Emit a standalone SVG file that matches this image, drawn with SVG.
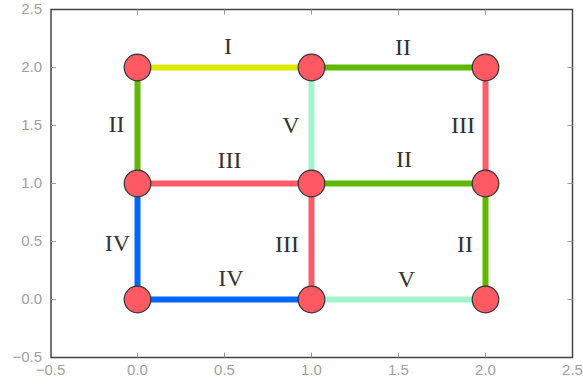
<svg xmlns="http://www.w3.org/2000/svg" width="583" height="386" viewBox="0 0 583 386">
<style>
.tk{stroke:#999;stroke-width:1;fill:none}
.tl{font-family:"Liberation Sans",Arial,sans-serif;font-size:15px;fill:#a0a0a0}
.e{stroke-width:6;fill:none;stroke-linecap:butt}
.lb{font-family:"Liberation Serif","Times New Roman",serif;font-size:24px;fill:#333;text-anchor:middle}
.n{fill:#ff5a64;stroke:#333;stroke-width:1.2}
</style>
<rect width="583" height="386" fill="#fff"/>
<g id="axes">
<rect x="51" y="9.5" width="521.5" height="348" fill="none" stroke="#444" stroke-width="1.5"/>
<path class="tk" d="M137.5 357.5v-5M224.5 357.5v-5M311.5 357.5v-5M398.5 357.5v-5M485.5 357.5v-5M137.5 9.5v5M224.5 9.5v5M311.5 9.5v5M398.5 9.5v5M485.5 9.5v5M51 67.5h5M51 125.5h5M51 183.5h5M51 241.5h5M51 299.5h5M572.5 67.5h-5M572.5 125.5h-5M572.5 183.5h-5M572.5 241.5h-5M572.5 299.5h-5"/>
<g class="tl" text-anchor="end">
<text x="42" y="14">2.5</text>
<text x="42" y="72">2.0</text>
<text x="42" y="130">1.5</text>
<text x="42" y="188">1.0</text>
<text x="42" y="246">0.5</text>
<text x="42" y="304">0.0</text>
<text x="42" y="362">−0.5</text>
</g>
<g class="tl" text-anchor="middle">
<text x="50.5" y="375">−0.5</text>
<text x="137.5" y="375">0.0</text>
<text x="224.5" y="375">0.5</text>
<text x="311.5" y="375">1.0</text>
<text x="398.5" y="375">1.5</text>
<text x="485.5" y="375">2.0</text>
<text x="572.5" y="375">2.5</text>
</g>
</g>
<g id="connectors">
<line class="e" x1="137.5" y1="67.5" x2="311.5" y2="67.5" stroke="#dde800"/>
<line class="e" x1="311.5" y1="67.5" x2="485.5" y2="67.5" stroke="#60b800"/>
<line class="e" x1="137.5" y1="67.5" x2="137.5" y2="183.5" stroke="#60b800"/>
<line class="e" x1="311.5" y1="67.5" x2="311.5" y2="183.5" stroke="#a0f5cc"/>
<line class="e" x1="485.5" y1="67.5" x2="485.5" y2="183.5" stroke="#ff5a68"/>
<line class="e" x1="137.5" y1="183.5" x2="311.5" y2="183.5" stroke="#ff5a68"/>
<line class="e" x1="311.5" y1="183.5" x2="485.5" y2="183.5" stroke="#60b800"/>
<line class="e" x1="137.5" y1="183.5" x2="137.5" y2="299.5" stroke="#0066ff"/>
<line class="e" x1="311.5" y1="183.5" x2="311.5" y2="299.5" stroke="#ff5a68"/>
<line class="e" x1="485.5" y1="183.5" x2="485.5" y2="299.5" stroke="#60b800"/>
<line class="e" x1="137.5" y1="299.5" x2="311.5" y2="299.5" stroke="#0066ff"/>
<line class="e" x1="311.5" y1="299.5" x2="485.5" y2="299.5" stroke="#a0f5cc"/>
<g class="lb">
<text x="228" y="54">I</text>
<text x="403" y="55">II</text>
<text x="116.5" y="132">II</text>
<text x="291" y="133">V</text>
<text x="463" y="133">III</text>
<text x="229.5" y="168">III</text>
<text x="404" y="167">II</text>
<text x="117.5" y="251">IV</text>
<text x="287" y="252">III</text>
<text x="465" y="252">II</text>
<text x="231" y="286">IV</text>
<text x="406.5" y="287">V</text>
</g>
</g>
<g id="n00"><circle class="n" cx="137.5" cy="299.5" r="13.3"/></g>
<g id="n10"><circle class="n" cx="311.5" cy="299.5" r="13.3"/></g>
<g id="n20"><circle class="n" cx="485.5" cy="299.5" r="13.3"/></g>
<g id="n01"><circle class="n" cx="137.5" cy="183.5" r="13.3"/></g>
<g id="n11"><circle class="n" cx="311.5" cy="183.5" r="13.3"/></g>
<g id="n21"><circle class="n" cx="485.5" cy="183.5" r="13.3"/></g>
<g id="n02"><circle class="n" cx="137.5" cy="67.5" r="13.3"/></g>
<g id="n12"><circle class="n" cx="311.5" cy="67.5" r="13.3"/></g>
<g id="n22"><circle class="n" cx="485.5" cy="67.5" r="13.3"/></g>
</svg>
